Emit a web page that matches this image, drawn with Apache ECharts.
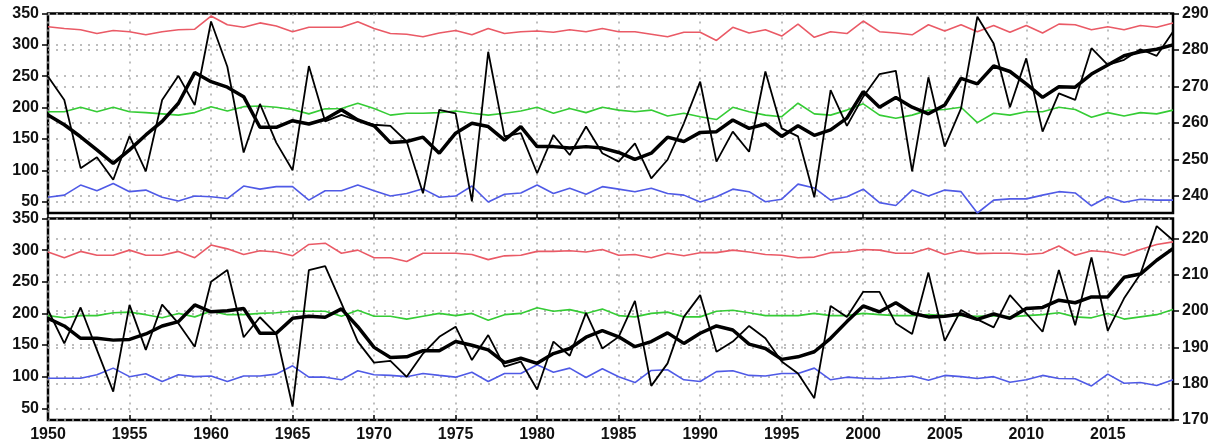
<!DOCTYPE html>
<html><head><meta charset="utf-8">
<script src="https://cdn.jsdelivr.net/npm/echarts@6/dist/echarts.min.js"></script>
<style>html,body{margin:0;padding:0;background:#fff}#c{width:1217px;height:446px}</style>
</head><body><div id="c"></div>
<script>
// ---- data ----
const years = Array.from({length: 70}, (_, i) => 1950 + i);
const yearTicks = [1950, 1955, 1960, 1965, 1970, 1975, 1980, 1985, 1990, 1995, 2000, 2005, 2010, 2015];
const leftTicks = [50, 100, 150, 200, 250, 300, 350];
const topRightTicks = [240, 250, 260, 270, 280, 290];
const botRightTicks = [170, 180, 190, 200, 210, 220];

const topRed = [329,326,324,318,323,321,316,321,324,325, 346,332,328,335,330,321,328,328,328,337,
 326,318,317,313,319,323,316,326,318,321, 322,320,324,321,326,321,321,317,313,320,
 320,307,328,319,324,314,333,312,321,318, 338,321,319,316,332,322,332,321,331,320,
 331,319,333,332,324,329,324,331,328,335];
const topGreen = [193.5,193.5,200.5,193.5,200.5,193.5,192,190,188,192, 201.5,194.5,201.5,202.5,200.5,197,190,198,198.5,207,
 198.5,188,191,191,192,194.5,191,188,191,194.5, 200.5,191,198.5,192,200.5,196,193.5,196,186.5,191,
 185.5,181,200.5,193.5,188,185.5,207,190,188,196, 206,188,183,188,196,197,200.5,176,191,188,
 193.5,193.5,200.5,197,184.5,192,186.5,192,190,196];
const topBlue = [57,60.5,76.5,67.5,79,66,68.5,57,51,59, 58,55,75,70,74,74,52.5,67.5,67.5,76.5,
 67.5,59,63,70.5,57,59,75,49.5,62,64, 76.5,63,71.5,62,74,70,66,71.5,63,60.5,
 49.5,58,70,66,50,54,78,72,52.5,58, 70,48.5,44,68.5,59,68.5,66,32,52.5,54.5,
 54.5,60.5,66,64,43.5,58,49,54,52.5,52.5];
const topThin = [272.7,266.3,247.6,250.6,244.4,256.4,246.7,266.3,272.9,264.9, 287.8,275.4,251.9,265.2,254.6,247,275.6,260.4,262.2,260.6,
 259.5,259.2,254.9,240.7,263.6,262.6,238.5,279.5,256.3,257.2, 246.2,256.7,251.2,259,251.7,249.4,254.4,244.8,249.9,259.9,
 271.3,249.4,257.6,252.1,274.1,258.5,256.3,239.6,269,259.2, 267.2,273.4,274.3,246.7,272.5,253.5,264,289.1,281.8,264.3,
 277.7,257.6,268.1,266.3,280.5,275.9,277.3,280.2,278.4,285];
const topThick = [262.2,259.5,256.2,252.6,248.9,252.6,256.7,260.4,265.4,273.8, 271.3,269.8,267.2,258.8,258.8,260.6,259.7,261,263.6,260.8,
 259.2,254.6,254.9,256.1,251.7,257.2,259.9,259,255.3,259, 253.5,253.5,253.1,253.5,253.1,251.9,250,251.7,256.1,254.9,
 257.4,257.6,260.8,258.5,259.7,256.3,259.2,256.6,258.1,261.3, 268.6,264.3,267,264.3,262.5,264.9,272.2,270.7,275.6,274.1,
 270.7,267,269.9,269.8,273.4,275.9,278.4,279.5,280.2,281.4];

const botRed = [297,288,298,292,292,300,292,292,298,288, 308,302,293,299,297,291,309,311,295,300,
 288,288,282,295,295,295,293,285,291,292, 298,298,299,297,301,292,293,288,295,291,
 296,296,300,297,293,292,288,289,296,297, 301,300,295,295,303,293,299,294.5,295,295,
 293,295,306.5,292,299,297,292,301,309,313];
const botGreen = [196.5,193,196.5,196.5,201,202,198,193,200,194.5, 203.5,198,198,200,201,203.5,203.5,203.5,195.5,205,
 195.5,195.5,191,195.5,200,196.5,200,189,198,200, 209,203.5,206,200,207,196.5,194.5,200,202,194.5,
 194.5,203.5,205,201,196.5,196.5,196.5,200,196.5,196.5, 200,198,196.5,196.5,198,196.5,196.5,195.5,196.5,194.5,
 196.5,198,201,194.5,193,200,191,194.5,198,206];
const botBlue = [97.6,97.6,97.6,103,113.5,100,104.5,92.3,103,100, 101,92.3,101,101,104,117.2,99.2,99.2,95,109.3,
 103,102,100,105,102,99.2,107,92.3,105,105, 118.8,107,113.5,98.7,112.4,100,90.7,109.8,111,95,
 92.3,108,109.3,102,101,105,105,113.5,95,99.2, 97.6,96.6,98.7,101,94.2,102,100,97,100,91.3,
 95,102,97,96.6,85.4,104,89.7,90.7,86,95];
const botThin = [200.3,191.1,201,189.3,177.8,201.7,189.3,201.8,196.6,190.2, 208.1,211.3,192.8,198.3,193.7,173.7,211.3,212.4,202.1,191.6,
 185.8,186.3,181.9,188.3,192.9,195.7,186.5,193.4,184.7,186.1, 178.4,191.6,187.7,199.5,189.7,192.9,202.8,179.4,185.6,198.4,
 204.4,188.8,191.6,195.9,192.5,186.1,182.8,176,201.4,198.4, 205.3,205.3,196.6,193.7,210.6,191.8,200.3,197.7,195.5,204.4,
 199.4,194.3,211.3,196.1,214.8,194.6,203.5,210.2,223.4,219.5];
const botThick = [198,195.9,192.5,192.5,192,192.2,193.7,195.9,197.1,201.7, 199.8,200.1,200.7,193.9,193.9,198,198.6,198.3,200.6,195.7,
 190,187.2,187.4,189.1,189.1,191.6,190.6,189.3,185.8,187, 185.6,188.3,189.7,192.8,194.6,192.9,190.2,191.6,194,191.1,
 193.9,195.9,194.8,190.9,189.7,186.7,187.4,188.8,192.5,197.1, 201.4,199.8,202.3,199.4,198.4,198.6,199.2,197.7,199.2,198,
 200.7,201,203,202.3,203.9,203.9,209.3,210.2,214,217.2];

// ---- styles ----
const RED = '#ea5a66', GREEN = '#35cc35', BLUE = '#4f5ae6', BLACK = '#000';
const font = {fontFamily: 'Liberation Sans', fontSize: 16, fontWeight: 'bold', color: '#111'};
const dotted = {show: true, lineStyle: {color: '#a8a8a8', width: 1.5, type: [2, 6]}};
const pairs = arr => years.map((y, i) => [y, arr[i]]);

function xAx(g, showLabel) {
  return {type: 'value', gridIndex: g, min: 1950, max: 2019,
    axisLine: {show: false},
    axisTick: {show: true, inside: showLabel, length: 5, customValues: yearTicks, lineStyle: {color: '#000', width: 1.5}},
    axisLabel: Object.assign({show: showLabel, margin: 7, customValues: yearTicks, formatter: v => String(v)}, font),
    splitLine: dotted};
}
function yAx(g, pos, min, max, ticks) {
  return {type: 'value', gridIndex: g, position: pos, min: min, max: max,
    axisLine: {show: false},
    axisTick: {show: true, length: 6, customValues: ticks, lineStyle: {color: '#000', width: 1.5}},
    axisLabel: Object.assign({margin: 9, customValues: ticks}, font),
    splitLine: dotted};
}
function ln(data, color, width, xi, yi, z) {
  return {type: 'line', data: pairs(data), xAxisIndex: xi, yAxisIndex: yi, symbol: 'none',
    lineStyle: {color: color, width: width}, itemStyle: {color: color}, z: z, silent: true};
}

const chart = echarts.init(document.getElementById('c'), null, {renderer: 'canvas'});
chart.setOption({
  animation: false,
  grid: [
    {left: 48, top: 13.5, width: 1125, height: 199.5, show: true, borderColor: '#000', borderWidth: 2.5, backgroundColor: 'transparent'},
    {left: 48, top: 218.5, width: 1125, height: 201.5, show: true, borderColor: '#000', borderWidth: 2.5, backgroundColor: 'transparent'}
  ],
  xAxis: [xAx(0, false), xAx(1, true)],
  yAxis: [
    yAx(0, 'left', 32, 350, leftTicks),
    yAx(0, 'right', 235.3, 290, topRightTicks),
    yAx(1, 'left', 31.5, 350, leftTicks),
    yAx(1, 'right', 170, 225.5, botRightTicks)
  ],
  series: [
    ln(topRed, RED, 1.6, 0, 0, 3),
    ln(topGreen, GREEN, 1.6, 0, 0, 3),
    ln(topBlue, BLUE, 1.6, 0, 0, 3),
    ln(topThin, BLACK, 1.8, 0, 1, 4),
    ln(topThick, BLACK, 3.5, 0, 1, 5),
    ln(botRed, RED, 1.6, 1, 2, 3),
    ln(botGreen, GREEN, 1.6, 1, 2, 3),
    ln(botBlue, BLUE, 1.6, 1, 2, 3),
    ln(botThin, BLACK, 1.8, 1, 3, 4),
    ln(botThick, BLACK, 3.5, 1, 3, 5)
  ]
});
</script></body></html>
